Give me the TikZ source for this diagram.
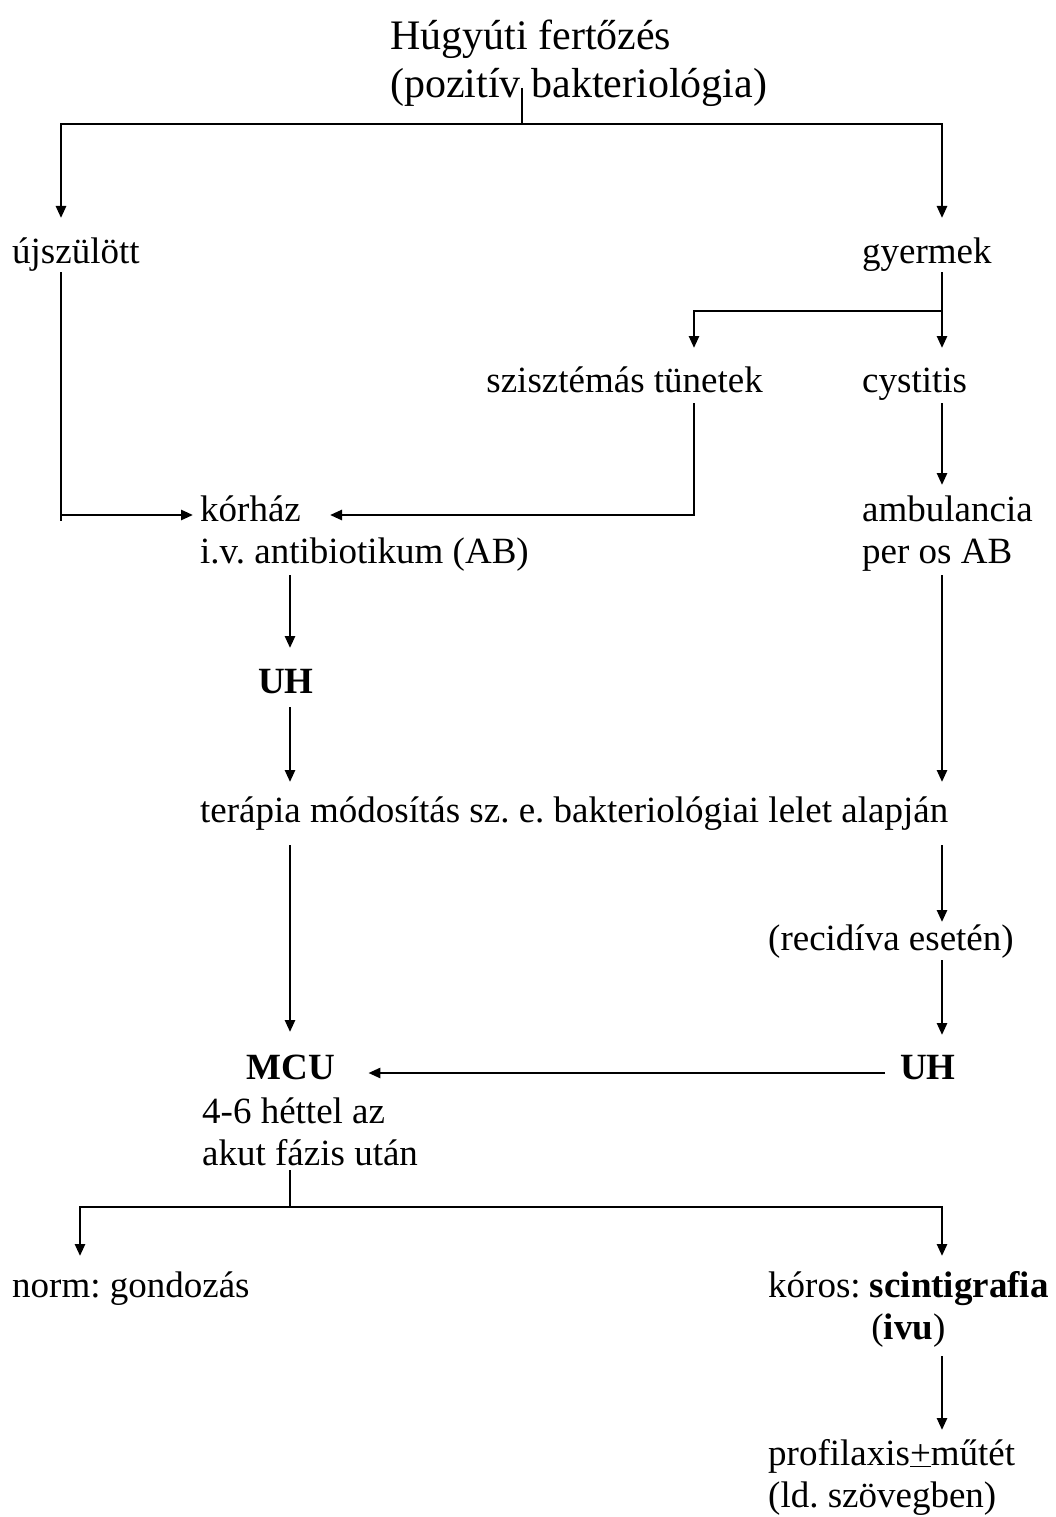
\documentclass[tikz,border=0pt]{standalone}
\usepackage{fontspec}
\setmainfont{Liberation Serif}
\usetikzlibrary{arrows.meta}
\frenchspacing

\tikzset{
  txt/.style={inner sep=0pt, align=left, font=\fontsize{37}{42}\selectfont},
  bold/.style={txt, font=\fontsize{37}{42}\selectfont\bfseries},
  hd/.style={inner sep=0pt, align=left, font=\fontsize{42}{48}\selectfont},
  conn/.style={line width=2.6pt},
  arr/.style={conn, -{Triangle[length=12pt,width=10pt]}}
}

\begin{document}
\begin{tikzpicture}[x=1pt,y=-1pt]
\useasboundingbox (0,0) rectangle (1055,1517);

% columns and forks
\coordinate (colL) at (61,0);
\coordinate (colN) at (80,0);
\coordinate (colA) at (290,0);
\coordinate (colM) at (694,0);
\coordinate (colR) at (942,0);
\coordinate (fork1) at (522,124);
\coordinate (fork2) at (942,311);
\coordinate (fork3) at (290,1207);

% multi-line nodes sit on the baseline of their last line
\node[hd, anchor=base west] (title) at (390,98) {Húgyúti fertőzés\\(pozitív bakteriológia)};
\node[txt, anchor=base west] (ujszulott) at (12,263) {újszülött};
\node[txt, anchor=base west] (gyermek) at (862,263) {gyermek};
\node[txt, anchor=base east] (szisztemas) at (763,392) {szisztémás tünetek};
\node[txt, anchor=base west] (cystitis) at (862,392) {cystitis};
\node[txt, anchor=base west] (korhaz) at (200,563) {kórház\\i.v. antibiotikum (AB)};
\node[txt, anchor=base west] (ambulancia) at (862,563) {ambulancia\\per os AB};
\node[bold, anchor=base] (uhA) at (286,693) {UH};
\node[txt, anchor=base west] (terapia) at (200,822) {terápia módosítás sz. e. bakteriológiai lelet alapján};
\node[txt, anchor=base west] (recidiva) at (768,950) {(recidíva esetén)};
\node[bold, anchor=base] (mcu) at (291,1079) {MCU};
\node[bold, anchor=base west] (uhB) at (900,1079) {UH};
\node[txt, anchor=base west] (mcuinfo) at (202,1165) {4-6 héttel az\\akut fázis után};
\node[txt, anchor=base west] (norm) at (12,1297) {norm: gondozás};
\node[txt, anchor=base west, align=center] (koros) at (768,1339) {kóros: \textbf{scintigrafia}\\(\textbf{ivu})};
\node[txt, anchor=base west] (profil) at (768,1507) {profilaxis\underline{+}műtét\\(ld. szövegben)};

% top split
\draw[conn] ([yshift=10pt]title.base -| fork1) -- (fork1);
\draw[arr] (fork1) -| ([yshift=45pt]ujszulott.base -| colL);
\draw[arr] (fork1) -| ([yshift=45pt]gyermek.base -| colR);

% left branch
\draw[conn] ([yshift=-9pt]ujszulott.base -| colL) -- ([yshift=42pt]korhaz.base -| colL);
\draw[arr] ([yshift=48pt]korhaz.base -| colL) -- ([shift={(-7pt,48pt)}]korhaz.base west);

% right branch
\draw[arr] ([yshift=-9pt]gyermek.base -| colR) -- ([yshift=44pt]cystitis.base -| colR);
\draw[arr] (fork2) -| ([yshift=44pt]szisztemas.base -| colM);
\draw[arr] ([yshift=-11pt]szisztemas.base -| colM) |- ([shift={(130pt,48pt)}]korhaz.base west);
\draw[arr] ([yshift=-11pt]cystitis.base -| colR) -- ([yshift=78pt]ambulancia.base -| colR);

% down to therapy
\draw[arr] ([yshift=-12pt]korhaz.base -| colA) -- ([yshift=45pt]uhA.base -| colA);
\draw[arr] ([yshift=-14pt]uhA.base -| colA) -- ([yshift=40pt]terapia.base -| colA);
\draw[arr] ([yshift=-12pt]ambulancia.base -| colR) -- ([yshift=40pt]terapia.base -| colR);

% to MCU
\draw[arr] ([yshift=-23pt]terapia.base -| colA) -- ([yshift=47pt]mcu.base -| colA);
\draw[arr] ([yshift=-23pt]terapia.base -| colR) -- ([yshift=28pt]recidiva.base -| colR);
\draw[arr] ([yshift=-10pt]recidiva.base -| colR) -- ([yshift=44pt]uhB.base -| colR);
\draw[arr] ([shift={(-15pt,6pt)}]uhB.base west) -- ([shift={(33pt,6pt)}]mcu.base east);

% bottom split
\draw[conn] ([yshift=-5pt]mcuinfo.base -| colA) -- (fork3);
\draw[arr] (fork3) -| ([yshift=41pt]norm.base -| colN);
\draw[arr] (fork3) -| ([yshift=83pt]koros.base -| colR);
\draw[arr] ([yshift=-17pt]koros.base -| colR) -- ([yshift=77pt]profil.base -| colR);
\end{tikzpicture}
\end{document}
